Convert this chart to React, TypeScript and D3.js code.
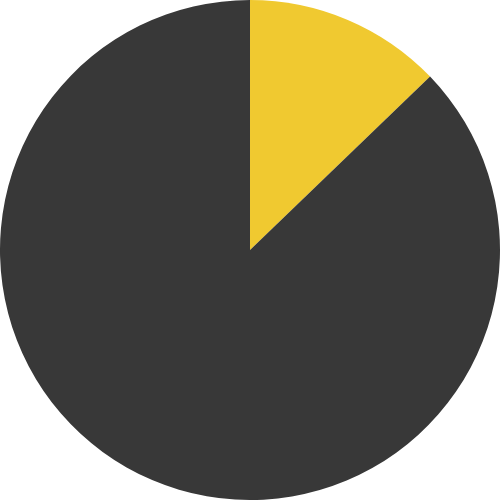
import React from "react";
import * as d3 from "d3";

const labels = ["A", "B"];
const values = [12.8, 87.2];
const colors = ["#F0C930", "#383838"];

export default function App() {
  const size = 500;
  const r = 250;
  const pie = d3.pie<number>().sort(null).value((d) => d)(values);
  const arc = d3.arc<d3.PieArcDatum<number>>().innerRadius(0).outerRadius(r);
  return (
    <svg
      width={size}
      height={size}
      style={{ position: "absolute", top: 0, left: 0, display: "block" }}
    >
      <g transform={`translate(${size / 2},${size / 2})`}>
        {pie.map((p, i) => (
          <path key={labels[i]} d={arc(p) || ""} fill={colors[i]} />
        ))}
      </g>
    </svg>
  );
}
